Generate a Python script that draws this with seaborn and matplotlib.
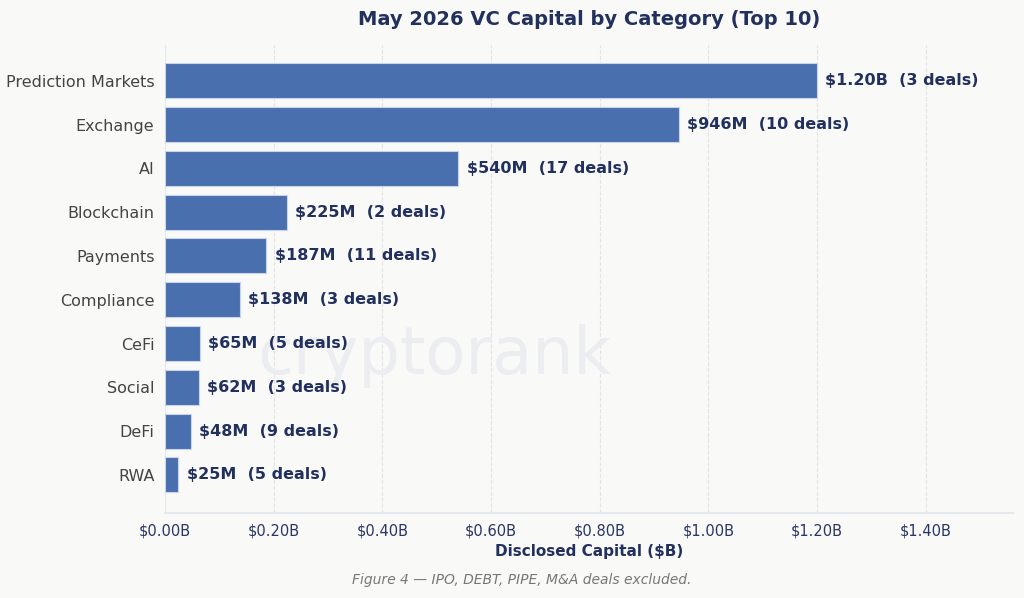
import seaborn as sns
import matplotlib.pyplot as plt
from matplotlib.ticker import FuncFormatter

categories = ["Prediction Markets", "Exchange", "AI", "Blockchain", "Payments",
              "Compliance", "CeFi", "Social", "DeFi", "RWA"]
capital_b = [1.20, 0.946, 0.540, 0.225, 0.187, 0.138, 0.065, 0.062, 0.048, 0.025]
deals = [3, 10, 17, 2, 11, 3, 5, 3, 9, 5]
value_labels = ["$1.20B", "$946M", "$540M", "$225M", "$187M",
                "$138M", "$65M", "$62M", "$48M", "$25M"]

navy = "#22305e"
bg = "#f9f9f8"

sns.set_style("white")
plt.rcParams["font.family"] = ["DejaVu Sans"]

fig = plt.figure(figsize=(10.24, 5.98), dpi=100, facecolor=bg)
ax = fig.add_axes([0.161, 0.142, 0.828, 0.783])
ax.set_facecolor(bg)

sns.barplot(x=capital_b, y=categories, orient="h", color="#4a6faf", saturation=1,
            edgecolor="#c9d3ea", linewidth=0.8, width=0.8, ax=ax, zorder=3)

ax.set_xlim(0, max(capital_b) * 1.3)
ax.set_ylim(9.87, -0.82)

# watermark
ax.text(0.318, 0.335, "cryptorank", transform=ax.transAxes, fontsize=47,
        color="#ecedf1", ha="center", va="center", zorder=1)

for i, (v, lab, d) in enumerate(zip(capital_b, value_labels, deals)):
    ax.text(v + 0.015, i, f"{lab}  ({d} deals)", va="center", ha="left",
            fontsize=11.5, fontweight="bold", color=navy, zorder=4)

ax.xaxis.set_major_formatter(FuncFormatter(lambda x, p: f"${x:.2f}B"))
ax.set_xticks([0, 0.2, 0.4, 0.6, 0.8, 1.0, 1.2, 1.4])
ax.tick_params(axis="x", colors="#2a3566", labelsize=10.5, length=4, color="#2a3566")
ax.tick_params(axis="y", labelcolor="#444444", labelsize=11.5, length=4, color="#666666")
ax.grid(axis="x", linestyle="--", color="#e3e3e6", linewidth=0.8, zorder=0)
ax.grid(axis="y", visible=False)

for s in ["top", "right"]:
    ax.spines[s].set_visible(False)
ax.spines["left"].set_color("#e6e8ef")
ax.spines["bottom"].set_color("#e6e8ef")
ax.spines["bottom"].set_linewidth(1.5)

ax.set_ylabel("")
ax.set_xlabel("Disclosed Capital ($B)", fontsize=11, fontweight="bold", color=navy)
ax.set_title("May 2026 VC Capital by Category (Top 10)", fontsize=14,
             fontweight="bold", color=navy, pad=14)

fig.text(0.509, 0.03, "Figure 4 — IPO, DEBT, PIPE, M&A deals excluded.",
         ha="center", va="center", fontsize=10, style="italic", color="#777777")

fig.savefig("out.png", dpi=100, facecolor=bg)
